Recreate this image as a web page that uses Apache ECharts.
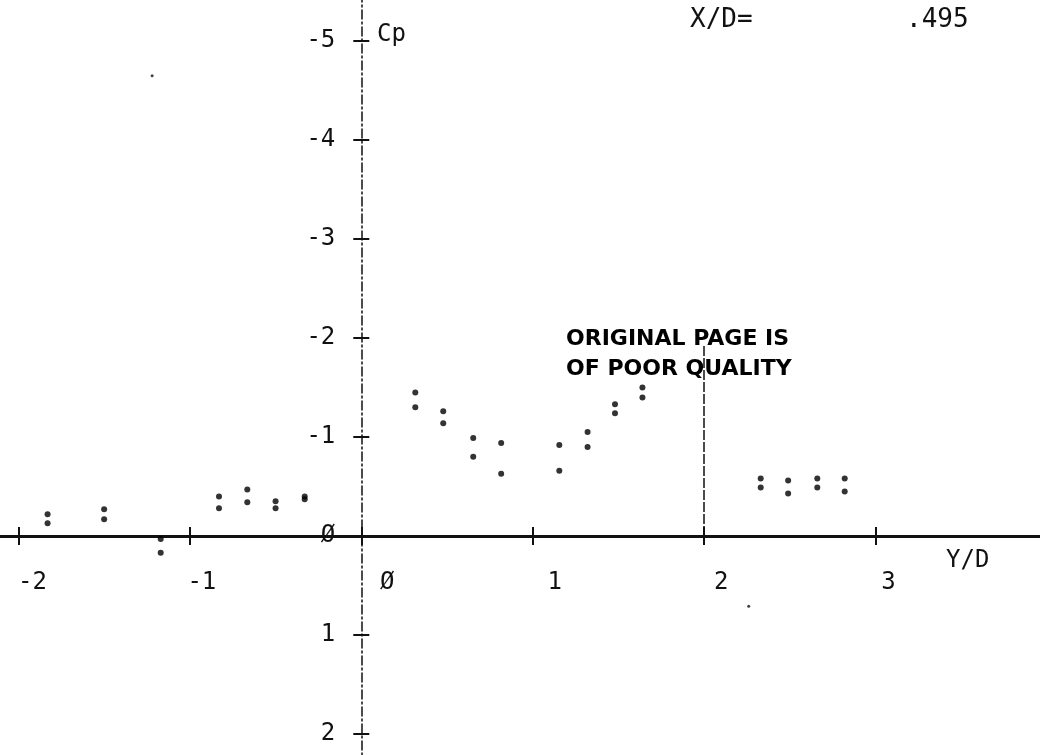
<!DOCTYPE html>
<html>
<head>
<meta charset="utf-8">
<title>Cp vs Y/D</title>
<script src="https://cdn.jsdelivr.net/npm/echarts@6/dist/echarts.min.js"></script>
<style>
    html, body { margin: 0; padding: 0; background: #fff; }
    #chart { width: 1040px; height: 755px; }
</style>
</head>
<body>
<div id="chart"></div>
<script>
// 测点位置 Y/D
var ydStations = [-1.83, -1.50, -1.17, -0.83, -0.665, -0.50, -0.33,
    0.315, 0.478, 0.653, 0.816, 1.155, 1.32, 1.48, 1.64,
    2.33, 2.49, 2.66, 2.82];
// 每个测点两次读数 Cp
var cpFirst = [-0.22, -0.27, 0.03, -0.40, -0.47, -0.35, -0.40,
    -1.45, -1.26, -0.99, -0.94, -0.92, -1.05, -1.33, -1.50,
    -0.58, -0.56, -0.58, -0.58];
var cpSecond = [-0.13, -0.17, 0.17, -0.28, -0.34, -0.28, -0.37,
    -1.30, -1.14, -0.80, -0.63, -0.66, -0.90, -1.24, -1.40,
    -0.49, -0.43, -0.49, -0.45];
// 孤立点
var strayYD = [2.26, -1.22];
var strayCp = [0.71, -4.65];
// 刻度
var xTicks = [-2, -1, 0, 1, 2, 3];
var yTicks = [-5, -4, -3, -2, -1, 0, 1, 2];
var stationLine = { yd: 2, cpFrom: 0, cpTo: -1.94 };
var xdLabel = 'X/D=';
var xdValue = '.495';

var FONT = "'DejaVu Sans Mono', monospace";
var INK = '#111';
var X_RANGE = { min: -3, max: 4 };
var Y_RANGE = { min: -6, max: 3 };
// 画布外延, 让 -6/3 和 -3/4 两端落在画面外
var PLOT = { left: -153, top: -58, width: 1200, height: 891 };
// 绘图仪标签的右移量(像素)
var X_LABEL_SHIFT = [14, 12, 26, 22, 17, 13];

function tickText(v, list) {
    if (list.indexOf(v) < 0) return '';
    if (v === 0) return 'Ø';
    return String(v);
}

function buildPoints() {
    var pts = [];
    for (var i = 0; i < ydStations.length; i++) {
        pts[pts.length] = [ydStations[i], cpFirst[i]];
        pts[pts.length] = [ydStations[i], cpSecond[i]];
    }
    return pts;
}

function buildStray() {
    var pts = [];
    for (var i = 0; i < strayYD.length; i++) {
        pts[pts.length] = [strayYD[i], strayCp[i]];
    }
    return pts;
}

// 过零的轴线和刻度(不带标签)
function xLineAxis(pos) {
    return {
        type: 'value', gridIndex: 0, position: pos,
        min: X_RANGE.min, max: X_RANGE.max, interval: 1,
        splitLine: { show: false },
        axisLine: { show: true, onZero: true, lineStyle: { color: INK, width: pos === 'bottom' ? 3 : 0 } },
        axisTick: { show: true, length: 9, lineStyle: { color: INK, width: 2 } },
        axisLabel: { show: false }
    };
}

function yLineAxis(pos) {
    return {
        type: 'value', gridIndex: 0, position: pos, inverse: true,
        min: Y_RANGE.min, max: Y_RANGE.max, interval: 1,
        splitLine: { show: false },
        axisLine: { show: true, onZero: true, lineStyle: { color: INK, width: pos === 'left' ? 1.5 : 0, type: [9, 3, 2, 3] } },
        axisTick: { show: true, length: 8, lineStyle: { color: INK, width: 2 } },
        axisLabel: { show: false }
    };
}

// 仅标签: 放在辅助 grid 的边上, 该边正好是零线
function xLabelAxis(gridIndex) {
    var rich = {};
    for (var i = 0; i < xTicks.length; i++) {
        rich['s' + i] = { fontFamily: FONT, fontSize: 24, color: INK, padding: [0, 0, 0, X_LABEL_SHIFT[i] * 2] };
    }
    return {
        type: 'value', gridIndex: gridIndex, position: 'bottom',
        min: X_RANGE.min, max: X_RANGE.max, interval: 1,
        splitLine: { show: false },
        axisLine: { show: false, onZero: false },
        axisTick: { show: false },
        axisLabel: {
            show: true, margin: 35,
            fontFamily: FONT, fontSize: 24, color: INK,
            rich: rich,
            formatter: function (v) {
                var idx = xTicks.indexOf(v);
                if (idx < 0) return '';
                return '{s' + idx + '|' + tickText(v, xTicks) + '}';
            }
        }
    };
}

function yLabelAxis(gridIndex) {
    return {
        type: 'value', gridIndex: gridIndex, position: 'left', inverse: true,
        min: Y_RANGE.min, max: Y_RANGE.max, interval: 1,
        splitLine: { show: false },
        axisLine: { show: false, onZero: false },
        axisTick: { show: false },
        axisLabel: {
            show: true, margin: 26, padding: [0, 0, 12, 0],
            fontFamily: FONT, fontSize: 24, color: INK,
            formatter: function (v) { return tickText(v, yTicks); }
        }
    };
}

function hiddenAxis(gridIndex, range, inverse) {
    return {
        type: 'value', gridIndex: gridIndex, show: false, inverse: !!inverse,
        min: range.min, max: range.max, interval: 1
    };
}

function createCpChart() {
    var zeroY = PLOT.top + PLOT.height * (0 - Y_RANGE.min) / (Y_RANGE.max - Y_RANGE.min);
    var zeroX = PLOT.left + PLOT.width * (0 - X_RANGE.min) / (X_RANGE.max - X_RANGE.min);
    var option = {
        backgroundColor: '#fff',
        animation: false,
        grid: [
            { left: PLOT.left, top: PLOT.top, width: PLOT.width, height: PLOT.height, outerBoundsMode: 'none' },
            { left: PLOT.left, top: PLOT.top, width: PLOT.width, height: zeroY - PLOT.top, outerBoundsMode: 'none' },
            { left: zeroX, top: PLOT.top, width: 1040 - zeroX, height: PLOT.height, outerBoundsMode: 'none' }
        ],
        xAxis: [xLineAxis('bottom'), xLineAxis('top'), xLabelAxis(1), hiddenAxis(2, { min: 0, max: 1 })],
        yAxis: [yLineAxis('left'), yLineAxis('right'), hiddenAxis(1, { min: 0, max: 1 }), yLabelAxis(2)],
        series: [{
            type: 'scatter',
            name: 'Cp',
            xAxisIndex: 0, yAxisIndex: 0,
            symbol: 'circle',
            symbolSize: 6,
            itemStyle: { color: '#000' },
            data: buildPoints(),
            markLine: {
                silent: true,
                symbol: ['none', 'none'],
                label: { show: false },
                lineStyle: { color: INK, width: 1.5, type: [10, 2] },
                data: [[
                    { coord: [stationLine.yd, stationLine.cpFrom] },
                    { coord: [stationLine.yd, stationLine.cpTo] }
                ]]
            }
        }, {
            type: 'scatter',
            name: 'stray',
            xAxisIndex: 0, yAxisIndex: 0,
            symbol: 'circle',
            symbolSize: 3,
            itemStyle: { color: INK },
            data: buildStray()
        }],
        graphic: [
            { type: 'text', left: 377, top: 23, style: { text: 'Cp', font: "24px " + FONT, fill: INK } },
            { type: 'text', left: 946, top: 549, style: { text: 'Y/D', font: "24px " + FONT, fill: INK } },
            { type: 'text', left: 690, top: 7, style: { text: xdLabel, font: "26px " + FONT, fill: INK } },
            { type: 'text', left: 906, top: 7, style: { text: xdValue, font: "26px " + FONT, fill: INK } },
            { type: 'text', left: 566, top: 328, style: { text: 'ORIGINAL PAGE IS', font: "bold 22px 'DejaVu Sans', sans-serif", fill: '#000' } },
            { type: 'text', left: 566, top: 358, style: { text: 'OF POOR QUALITY', font: "bold 22px 'DejaVu Sans', sans-serif", fill: '#000' } }
        ]
    };
    var chartDiv = document.getElementById('chart');
    var echart = echarts.init(chartDiv);
    echart.setOption(option, true);
}

createCpChart();
</script>
</body>
</html>
